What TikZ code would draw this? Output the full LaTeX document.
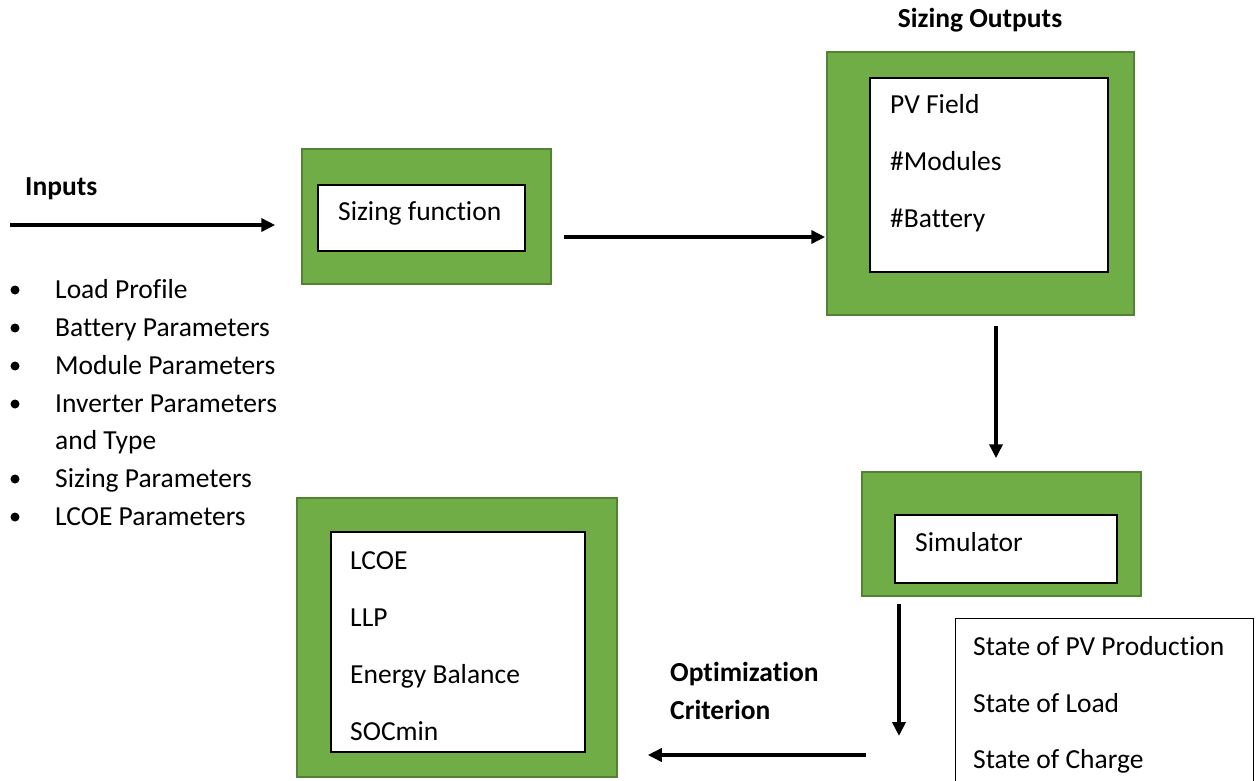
\documentclass[tikz,border=0pt]{standalone}
\usepackage{fontspec}
\setmainfont{Carlito}[RawFeature={-liga;-clig;-dlig;-rlig;-calt}]
\usetikzlibrary{arrows.meta}
\definecolor{boxgreen}{HTML}{70AD47}
\definecolor{edgegreen}{HTML}{548235}
\begin{document}
\begin{tikzpicture}[x=1pt,y=-1pt,
    outer/.style={draw=edgegreen,line width=1.5pt,fill=boxgreen,inner sep=0pt},
    inner/.style={draw=black,line width=1.3pt,fill=white,inner sep=0pt},
    txt/.style={anchor=base west,inner sep=0pt,font=\fontsize{27.5}{32}\selectfont},
    head/.style={txt,font=\fontsize{27.5}{32}\selectfont\bfseries},
    arr/.style={line width=3.5pt,-{Triangle[length=14pt,width=13pt]}}]
    \useasboundingbox (0,0) rectangle (1259,780);
    \clip (0,0) rectangle (1259,780);

    % inputs
    \node[head] (inputs) at (25,195) {Inputs};
    \foreach \y/\item [count=\i] in {298/Load Profile,336/Battery Parameters,374/Module Parameters,412/Inverter Parameters,487/Sizing Parameters,525/LCOE Parameters}{
        \fill (15,\y-8) circle (4.5pt);
        \node[txt] (in\i) at (55,\y) {\item};
    }
    \node[txt] (in7) at (55,449) {and Type};

    % sizing function
    \node[outer,minimum width=249pt,minimum height=135pt] (sfo) at (426.5,216.5) {};
    \node[inner,minimum width=207pt,minimum height=66pt] (sfi) at (421.5,218) {};
    \node[txt] (sft) at (338,220) {Sizing function};

    % sizing outputs
    \node[head,anchor=base] (outlbl) at (980,27) {Sizing Outputs};
    \node[outer,minimum width=307pt,minimum height=263pt] (so) at (980.5,183.5) {};
    \node[inner,minimum width=238pt,minimum height=194pt] (soi) at (989,175) {};
    \node[txt] (pv) at (890,113.5) {PV Field};
    \node[txt] (mods) at (890,170.5) {\#Modules};
    \node[txt] (bats) at (890,227.5) {\#Battery};

    % simulator
    \node[outer,minimum width=279pt,minimum height=124pt] (sim) at (1001.5,534) {};
    \node[inner,minimum width=222pt,minimum height=68pt] (simi) at (1006,549) {};
    \node[txt] (simt) at (915,551) {Simulator};

    % states
    \node[draw=black,line width=1pt,inner sep=0pt,minimum width=298pt,minimum height=182pt] (states) at (1104,709) {};
    \node[txt] (st1) at (973,655) {State of PV Production};
    \node[txt] (st2) at (973,712) {State of Load};
    \node[txt] (st3) at (973,768) {State of Charge};

    % criterion
    \node[outer,minimum width=320pt,minimum height=279pt] (crit) at (457,637.5) {};
    \node[inner,minimum width=254pt,minimum height=220pt] (criti) at (458,642) {};
    \node[txt] (c1) at (350,569) {LCOE};
    \node[txt] (c2) at (350,626) {LLP};
    \node[txt] (c3) at (350,683) {Energy Balance};
    \node[txt] (c4) at (350,740) {SOCmin};
    \node[head] (opt1) at (670,681) {Optimization};
    \node[head] (opt2) at (670,719) {Criterion};

    % arrows
    \coordinate (inp) at (10,225);
    \coordinate (simend) at (899,736);
    \coordinate (critstart) at (866,755);
    \draw[arr] (inp) -- ([shift={(-26,8.5)}]sfo.west);
    \draw[arr] ([shift={(12,20.5)}]sfo.east) -- ([shift={(-1,53.5)}]so.west);
    \draw[arr] ([shift={(15.5,10)}]so.south) -- ([shift={(-5.5,-13)}]sim.north);
    \draw[arr] ([shift={(-102.5,7)}]sim.south) -- (simend);
    \draw[arr] (critstart) -- ([shift={(30,117.5)}]crit.east);
\end{tikzpicture}
\end{document}
